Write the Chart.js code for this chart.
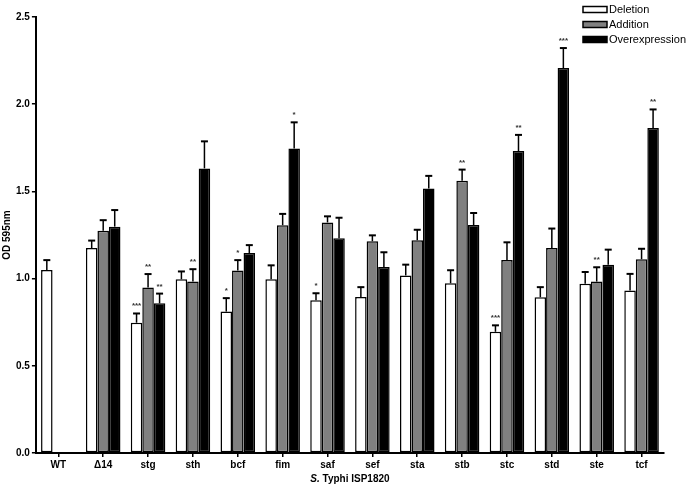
<!DOCTYPE html>
<html>
<head>
<meta charset="utf-8">
<script src="https://cdn.jsdelivr.net/npm/chart.js@4.4.1/dist/chart.umd.min.js"></script>
<style>
  html, body { margin: 0; padding: 0; background: #fff; }
</style>
</head>
<body>
<canvas id="biofilm-chart" width="686" height="489"></canvas>
<script>
const categories = ['WT', '\u039414', 'stg', 'sth', 'bcf', 'fim', 'saf', 'sef', 'sta', 'stb', 'stc', 'std', 'ste', 'tcf']

const deletion = [1.05, 1.175, 0.747, 0.996, 0.811, 0.996, 0.876, 0.895, 1.018, 0.973, 0.695, 0.893, 0.971, 0.932]
const deletionErr = [0.056, 0.043, 0.053, 0.045, 0.077, 0.08, 0.04, 0.056, 0.062, 0.075, 0.037, 0.058, 0.067, 0.095]
const deletionSig = ['', '', '***', '', '*', '', '*', '', '', '', '***', '', '', '']

const addition = [null, 1.275, 0.949, 0.983, 1.046, 1.306, 1.322, 1.214, 1.22, 1.561, 1.106, 1.175, 0.983, 1.111]
const additionErr = [null, 0.06, 0.077, 0.071, 0.06, 0.065, 0.035, 0.034, 0.06, 0.064, 0.102, 0.112, 0.082, 0.06]
const additionSig = ['', '', '**', '**', '*', '', '', '', '', '**', '', '', '**', '']

const overexpression = [null, 1.298, 0.858, 1.632, 1.147, 1.746, 1.231, 1.067, 1.516, 1.307, 1.731, 2.207, 1.08, 1.863]
const overexpressionErr = [null, 0.095, 0.056, 0.155, 0.045, 0.15, 0.118, 0.084, 0.073, 0.069, 0.093, 0.115, 0.086, 0.107]
const overexpressionSig = ['', '', '**', '', '', '*', '', '', '', '', '**', '***', '', '**']

const yTicks = [0, 0.5, 1.0, 1.5, 2.0, 2.5]

const FONT = '"Liberation Sans", Arial, sans-serif'

// up-only error bars with caps, plus significance stars
const errorBars = {
  id: 'errorBars',
  afterDatasetsDraw(chart) {
    const ctx = chart.ctx
    const yScale = chart.scales.y
    chart.data.datasets.forEach((ds, i) => {
      const meta = chart.getDatasetMeta(i)
      meta.data.forEach((bar, j) => {
        const v = ds.data[j]
        if (v == null) return
        const top = yScale.getPixelForValue(v + ds.errors[j])
        const base = yScale.getPixelForValue(v)
        ctx.save()
        ctx.strokeStyle = '#000'
        ctx.lineWidth = 1.5
        ctx.beginPath()
        ctx.moveTo(bar.x, base)
        ctx.lineTo(bar.x, top)
        ctx.stroke()
        ctx.lineWidth = 2
        ctx.beginPath()
        ctx.moveTo(bar.x - 3.5, top)
        ctx.lineTo(bar.x + 3.5, top)
        ctx.stroke()
        if (ds.stars[j]) {
          ctx.fillStyle = '#333'
          ctx.font = 'bold 8px ' + FONT
          ctx.textAlign = 'center'
          ctx.textBaseline = 'alphabetic'
          ctx.fillText(ds.stars[j], bar.x, top - 5)
        }
        ctx.restore()
      })
    })
  }
}

// legend in the top right corner and the x title with italic genus
const extras = {
  id: 'extras',
  afterDraw(chart) {
    const ctx = chart.ctx
    ctx.save()
    chart.data.datasets.forEach((ds, i) => {
      const cy = 9.5 + i * 15
      ctx.fillStyle = ds.backgroundColor
      ctx.fillRect(583, cy - 3, 24, 6)
      ctx.strokeStyle = '#000'
      ctx.lineWidth = 1.5
      ctx.strokeRect(583, cy - 3, 24, 6)
      ctx.fillStyle = '#000'
      ctx.font = '11px ' + FONT
      ctx.textAlign = 'left'
      ctx.textBaseline = 'middle'
      ctx.fillText(ds.label, 609, cy + 0.5)
    })

    const area = chart.chartArea
    const cx = (area.left + area.right) / 2
    const italic = 'italic bold 10px ' + FONT
    const bold = 'bold 10px ' + FONT
    ctx.font = italic
    const w1 = ctx.measureText('S.').width
    ctx.font = bold
    const w2 = ctx.measureText(' Typhi ISP1820').width
    const x0 = cx - (w1 + w2) / 2
    ctx.fillStyle = '#000'
    ctx.textBaseline = 'middle'
    ctx.font = italic
    ctx.fillText('S.', x0, 479)
    ctx.font = bold
    ctx.fillText(' Typhi ISP1820', x0 + w1, 479)
    ctx.restore()
  }
}

const ctx = document.getElementById('biofilm-chart').getContext('2d')

new Chart(ctx, {
  type: 'bar',
  data: {
    labels: categories,
    datasets: [
      { label: 'Deletion', data: deletion, errors: deletionErr, stars: deletionSig, backgroundColor: '#ffffff' },
      { label: 'Addition', data: addition, errors: additionErr, stars: additionSig, backgroundColor: '#808080' },
      { label: 'Overexpression', data: overexpression, errors: overexpressionErr, stars: overexpressionSig, backgroundColor: '#000000' },
    ]
  },
  options: {
    responsive: false,
    animation: false,
    devicePixelRatio: 1,
    datasets: {
      bar: {
        borderColor: '#000',
        borderWidth: 1.5,
        borderSkipped: false,
        categoryPercentage: 0.77,
        barPercentage: 1.0,
      }
    },
    layout: { padding: { top: 17, right: 22, bottom: 16, left: 0 } },
    plugins: {
      legend: { display: false },
      tooltip: { enabled: false },
    },
    scales: {
      x: {
        offset: true,
        grid: { offset: false, drawOnChartArea: false, drawTicks: true, tickLength: 4, color: '#000', lineWidth: 1.5 },
        border: { color: '#000', width: 2 },
        ticks: { color: '#000', font: { family: FONT, size: 10, weight: 'bold' }, padding: 2, maxRotation: 0 },
      },
      y: {
        min: 0,
        max: 2.5,
        afterBuildTicks: axis => { axis.ticks = yTicks.map(v => ({ value: v })) },
        grid: { drawOnChartArea: false, drawTicks: true, tickLength: 4, color: '#000', lineWidth: 1.5 },
        border: { color: '#000', width: 2 },
        ticks: { color: '#000', font: { family: FONT, size: 10, weight: 'bold' }, padding: 2, callback: v => v.toFixed(1) },
        title: { display: true, text: 'OD 595nm', color: '#000', font: { family: FONT, size: 10, weight: 'bold' }, padding: 1 },
      }
    }
  },
  plugins: [errorBars, extras]
})
</script>
</body>
</html>
